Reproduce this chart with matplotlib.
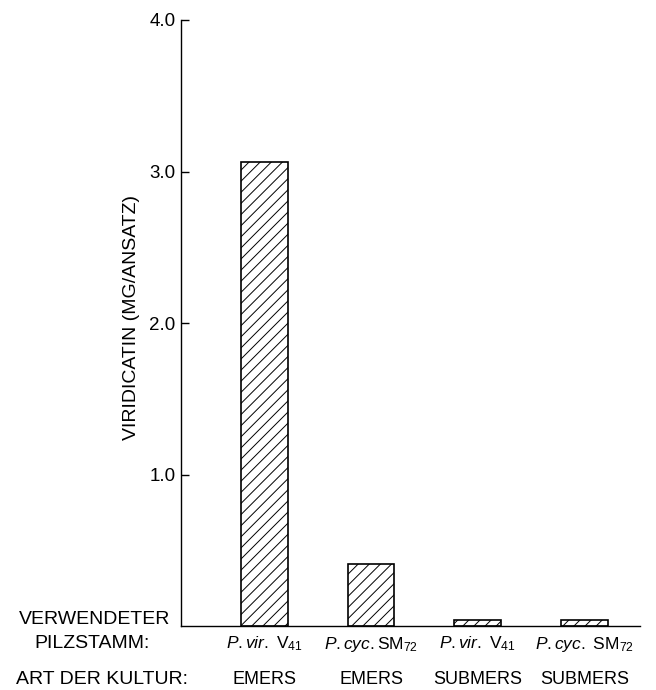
import matplotlib
matplotlib.use("Agg")
import matplotlib.pyplot as plt
import numpy as np

plt.rcParams['font.family'] = ['Liberation Sans', 'DejaVu Sans']
plt.rcParams['mathtext.fontset'] = 'custom'
plt.rcParams['mathtext.rm'] = 'Liberation Sans'
plt.rcParams['mathtext.it'] = 'Liberation Sans:italic'
plt.rcParams['hatch.linewidth'] = 0.7

strains = [r"$\mathit{P.vir.}\ \mathrm{V}_{41}$",
           r"$\mathit{P.cyc.}\mathrm{SM}_{72}$",
           r"$\mathit{P.vir.}\ \mathrm{V}_{41}$",
           r"$\mathit{P.cyc.}\ \mathrm{SM}_{72}$"]
cultures = ["EMERS", "EMERS", "SUBMERS", "SUBMERS"]
values = [3.06, 0.41, 0.04, 0.04]
yticks = [1.0, 2.0, 3.0, 4.0]
ytick_labels = ["1.0", "2.0", "3.0", "4.0"]

fig = plt.figure(figsize=(6.56, 6.90), dpi=100)
ax = fig.add_axes([181/656, 1-626/690, (640-181)/656, (626-20)/690])

x = np.arange(len(values))
ax.bar(x, values, width=0.44, facecolor='white', edgecolor='black',
       linewidth=1.2, hatch='///')

ax.set_xlim(-0.78, 3.52)
ax.set_ylim(0, 4.0)
ax.spines['top'].set_visible(False)
ax.spines['right'].set_visible(False)
ax.spines['left'].set_linewidth(1.0)
ax.spines['bottom'].set_linewidth(1.0)
ax.set_yticks(yticks)
ax.set_yticklabels(ytick_labels)
ax.tick_params(axis='y', direction='in', length=6, width=1.0, labelsize=13.5, pad=4)
ax.set_xticks([])

def fy(py):
    return 1 - py / 690

for xi, s, c in zip(x, strains, cultures):
    xf = ax.transData.transform((xi, 0))[0] / fig.bbox.width
    fig.text(xf, fy(644), s, ha='center', va='center', fontsize=12.5)
    fig.text(xf, fy(679), c, ha='center', va='center', fontsize=13)

fig.text(95/656, fy(620), "VERWENDETER", ha='center', va='center', fontsize=14)
fig.text(92/656, fy(643), "PILZSTAMM:", ha='center', va='center', fontsize=14)
fig.text(102/656, fy(679), "ART DER KULTUR:", ha='center', va='center', fontsize=14)

fig.text(131/656, fy(318), "VIRIDICATIN (MG/ANSATZ)", rotation=90,
         ha='center', va='center', fontsize=14)

fig.savefig("out.png", dpi=100)
